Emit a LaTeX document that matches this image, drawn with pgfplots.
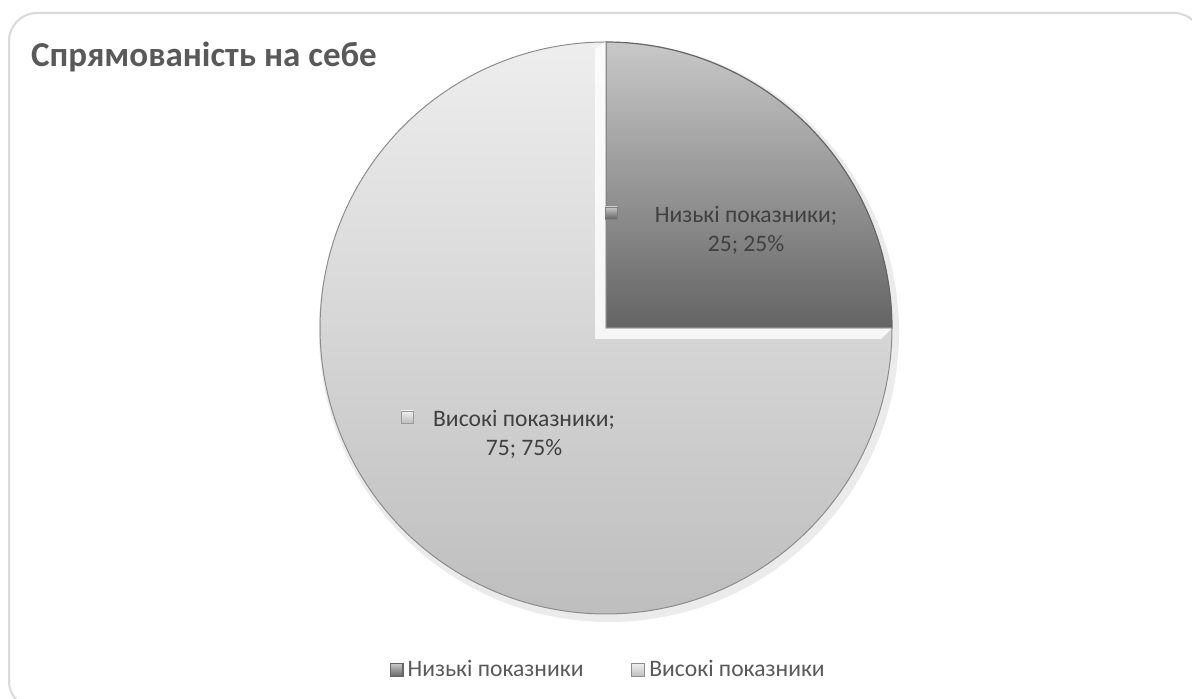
\documentclass[border=0pt]{standalone}
\usepackage{fontspec}
\setmainfont{Carlito}
\usepackage{pgfplots}
\usepackage{pgfplotstable}
\pgfplotsset{compat=1.18}
\definecolor{titlegray}{HTML}{595959}
\definecolor{labelgray}{HTML}{404040}
\definecolor{darktop}{HTML}{C8C8C8}
\definecolor{darkbot}{HTML}{646464}
\definecolor{lighttop}{HTML}{EEEEEE}
\definecolor{lightbot}{HTML}{BEBEBE}
\definecolor{framegray}{HTML}{D9D9D9}

\pgfplotstableread{
label value
Low 25
High 75
}\piedata

\begin{document}
\begin{tikzpicture}
\pgfplotstablegetelem{0}{value}\of\piedata \pgfmathsetmacro{\vlow}{\pgfplotsretval}
\pgfplotstablegetelem{1}{value}\of\piedata \pgfmathsetmacro{\vhigh}{\pgfplotsretval}
\pgfmathsetmacro{\total}{\vlow+\vhigh}
\pgfmathsetmacro{\aone}{90-360*(\vlow/\total)}
\pgfmathsetmacro{\atwo}{\aone-360*(\vhigh/\total)}
\begin{axis}[
  scale only axis, width=596pt, height=349.5pt,
  xmin=0, xmax=1192, ymin=0, ymax=699,
  hide axis, clip=false,
  legend columns=2,
  legend style={at={(0.511,0.0415)}, anchor=center, draw=none, fill=none,
    font=\fontsize{11.8}{14}\selectfont, text=titlegray,
    /tikz/every even column/.append style={column sep=22pt}},
  legend image code/.code={\path[#1] (0pt,-3.2pt) rectangle (6.4pt,3.2pt);},
]
\coordinate (bl) at (rel axis cs:0,0);
\coordinate (tr) at (rel axis cs:1,1);
% frame
\draw[framegray, line width=1pt, rounded corners=14pt] (9,686) rectangle (1202,-10);
% soft shadow
\fill[black, opacity=0.08] (609,367) circle[radius=145pt];
% dark slice
\addplot[draw=black!60, line width=0.6pt, top color=darktop, bottom color=darkbot,
  domain=\aone:90, samples=61, variable=\t]
  ({606+286*cos(\t)},{371+286*sin(\t)}) -- (606,371) -- cycle;
\addlegendentry{Низькі показники}
% light slice
\addplot[draw=black!45, line width=0.5pt, top color=lighttop, bottom color=lightbot,
  domain=\atwo:\aone, samples=181, variable=\t]
  ({606+286*cos(\t)},{371+286*sin(\t)}) -- (606,371) -- cycle;
\addlegendentry{Високі показники}
% bevel highlights on light slice
\fill[white, opacity=0.8] (595,650) -- (605,657) -- (605,370) -- (595,360) -- cycle;
\fill[white, opacity=0.8] (595,360) -- (605,370) -- (891,370) -- (881,360) -- cycle;
% title
\node[anchor=base west, text=titlegray, font=\bfseries\fontsize{17.5}{20}\selectfont]
  at (24,632) {Спрямованість на себе};
% data labels
\path[top color=darktop, bottom color=darkbot, draw=black!50, line width=0.3pt]
  (605,480) rectangle (617,492);
\node[align=center, text=labelgray, font=\fontsize{11.8}{14.5}\selectfont]
  at (746,469) {Низькі показники;\\25; 25\%};
\path[top color=lighttop, bottom color=lightbot, draw=black!40, line width=0.3pt]
  (401,276) rectangle (413,288);
\node[align=center, text=labelgray, font=\fontsize{11.8}{14.5}\selectfont]
  at (524,265) {Високі показники;\\75; 75\%};
\end{axis}
\pgfresetboundingbox
\path[use as bounding box] (bl) rectangle (tr);
\end{tikzpicture}
\end{document}
